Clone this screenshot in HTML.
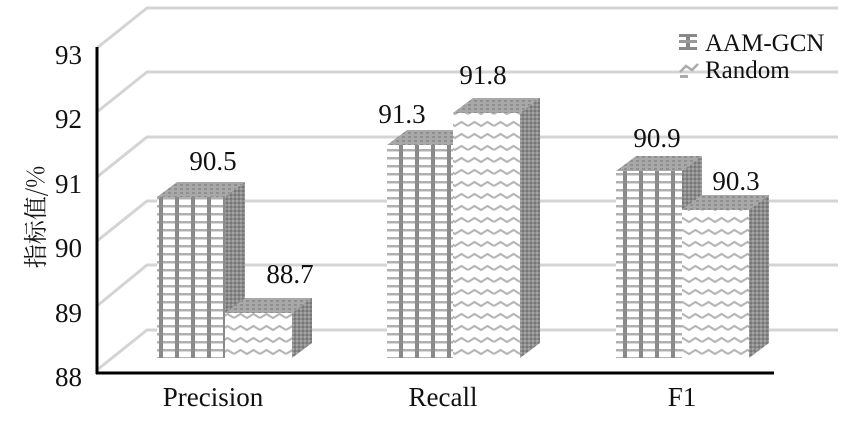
<!DOCTYPE html>
<html><head><meta charset="utf-8"><style>
html,body{margin:0;padding:0;background:#fff;width:851px;height:427px;overflow:hidden}
svg{display:block}
.s{font-family:"Liberation Serif","DejaVu Serif",serif;fill:#111}
.c{font-family:"Noto Serif CJK SC","Noto Sans CJK SC",serif;fill:#111}
</style></head><body>
<svg width="851" height="427" viewBox="0 0 851 427" xmlns="http://www.w3.org/2000/svg">
<defs>
<pattern id="grid" width="16" height="8" patternUnits="userSpaceOnUse" x="157" y="197">
<rect width="16" height="8" fill="#fff"/>
<rect x="0" y="0" width="16" height="2.5" fill="#b0b0b0"/>
<rect x="2" y="0" width="4" height="8" fill="#8a8a8a"/>
</pattern>
<pattern id="wave" width="26" height="12" patternUnits="userSpaceOnUse">
<rect width="26" height="12" fill="#fff"/>
<path d="M0 6 L6.5 2 L13 6 L19.5 2 L26 6" stroke="#b5b5b5" stroke-width="2.2" fill="none"/>
</pattern>
<pattern id="side" width="4" height="4" patternUnits="userSpaceOnUse">
<rect width="4" height="4" fill="#8c8c8c"/>
<rect width="2" height="2" fill="#a5a5a5"/>
<rect x="2" y="2" width="2" height="2" fill="#777"/>
</pattern>
<pattern id="top" width="6" height="4" patternUnits="userSpaceOnUse">
<rect width="6" height="4" fill="#a8a8a8"/>
<rect width="3" height="2" fill="#8f8f8f"/>
</pattern>
</defs>
<g stroke="#d4d4d4" stroke-width="3" fill="none">
<polyline points="97,48 147,8 838,8"/>
<polyline points="97,112 147,72 838,72"/>
<polyline points="97,177 147,137 838,137"/>
<polyline points="97,241 147,201 838,201"/>
<polyline points="97,306 147,265 838,265"/>
<polyline points="97,370 147,330 838,330"/>
</g>
<g>
<polygon points="157,197 177,182 245,182 225,197" fill="url(#top)"/>
<polygon points="225,197 245,182 245,343 225,358" fill="url(#side)"/>
<rect x="157" y="197" width="68" height="161" fill="url(#grid)"/>
<polygon points="225,313 245,298 312,298 292,313" fill="url(#top)"/>
<polygon points="292,313 312,298 312,343 292,358" fill="url(#side)"/>
<rect x="225" y="313" width="67" height="45" fill="url(#wave)"/>
<polygon points="387,145 407,130 473,130 453,145" fill="url(#top)"/>
<rect x="387" y="145" width="66" height="213" fill="url(#grid)"/>
<polygon points="453,113 473,98 540,98 520,113" fill="url(#top)"/>
<polygon points="520,113 540,98 540,343 520,358" fill="url(#side)"/>
<rect x="453" y="113" width="67" height="245" fill="url(#wave)"/>
<polygon points="616,171 636,156 702,156 682,171" fill="url(#top)"/>
<polygon points="682,171 702,156 702,195 682,210" fill="url(#side)"/>
<rect x="616" y="171" width="66" height="187" fill="url(#grid)"/>
<polygon points="682,210 702,195 769,195 749,210" fill="url(#top)"/>
<polygon points="749,210 769,195 769,343 749,358" fill="url(#side)"/>
<rect x="682" y="210" width="67" height="148" fill="url(#wave)"/>
</g>
<line x1="97" y1="47" x2="97" y2="374" stroke="#000" stroke-width="3"/>
<line x1="96" y1="373" x2="774" y2="373" stroke="#000" stroke-width="3"/>
<g class="s" font-size="27" text-anchor="end">
<text class="s" x="82" y="64">93</text>
<text class="s" x="82" y="128">92</text>
<text class="s" x="82" y="193">91</text>
<text class="s" x="82" y="257">90</text>
<text class="s" x="82" y="322">89</text>
<text class="s" x="82" y="386">88</text>
</g>
<text class="c" transform="translate(44,217) rotate(-90)" font-size="24" text-anchor="middle">指标值/%</text>
<g font-size="27" text-anchor="middle">
<text class="s" x="213" y="406">Precision</text>
<text class="s" x="443" y="406">Recall</text>
<text class="s" x="682" y="406">F1</text>
</g>
<g font-size="27" text-anchor="middle">
<text class="s" x="213" y="170">90.5</text>
<text class="s" x="290" y="283">88.7</text>
<text class="s" x="402" y="123">91.3</text>
<text class="s" x="483" y="84">91.8</text>
<text class="s" x="657" y="147">90.9</text>
<text class="s" x="736" y="190">90.3</text>
</g>
<rect x="679" y="34" width="18" height="3" fill="#888"/>
<rect x="679" y="47" width="18" height="3" fill="#888"/>
<rect x="686" y="34" width="4" height="16" fill="#888"/>
<rect x="679" y="40" width="18" height="3" fill="#999"/>
<path d="M680 72 L686 66 L692 70 L698 64" stroke="#aaa" stroke-width="2.5" fill="none"/>
<rect x="680" y="75" width="8" height="3" fill="#aaa"/>
<g font-size="25">
<text class="s" x="705" y="51">AAM-GCN</text>
<text class="s" x="705" y="78">Random</text>
</g>
</svg>
</body></html>
